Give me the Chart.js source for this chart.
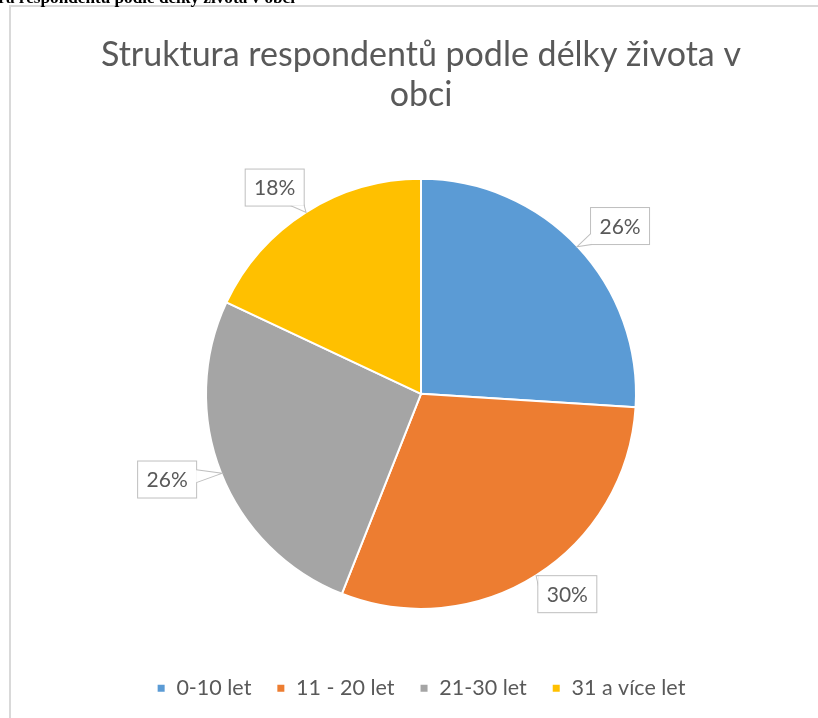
<!DOCTYPE html>
<html>
<head>
<meta charset="utf-8">
<script src="https://cdn.jsdelivr.net/npm/chart.js@4"></script>
<style>
    html, body { margin: 0; padding: 0; background: #fff; }
    body { width: 818px; height: 718px; position: relative; overflow: hidden; }
    #caption {
        position: absolute; top: -11px; right: calc(100% - 295px);
        font: bold 17.2px "Liberation Serif", serif; line-height: 18px;
        white-space: nowrap; color: #000; z-index: 2;
    }
    #frame {
        position: absolute; left: 9px; top: 5px; width: 900px; height: 800px;
        border-left: 2px solid #d9d9d9; border-top: 2px solid #d9d9d9;
    }
    #wrap { position: absolute; left: 0; top: 0; width: 818px; height: 718px; }
</style>
</head>
<body>
<div id="caption">Struktura respondentů podle délky života v obci</div>
<div id="frame"></div>
<div id="wrap"><canvas id="pie" width="818" height="718"></canvas></div>
<script>
// data
const kategorie = ['0-10 let', '11 - 20 let', '21-30 let', '31 a více let'];
const podily = [26, 30, 26, 18];
const barvy = ['#5b9bd5', '#ed7d31', '#a5a5a5', '#ffc000'];
const titulek = ['Struktura respondentů podle délky života v', 'obci'];

const FONT = 'Lato, "Open Sans", sans-serif';
const SEDA = '#595959';

// popisky s odkazem (callout) jako v Excelu
const popisky = {
    id: 'popisky',
    afterDatasetsDraw(chart) {
        const ctx = chart.ctx;
        const meta = chart.getDatasetMeta(0);
        ctx.save();
        ctx.font = '21px ' + FONT;
        meta.data.forEach((arc, i) => {
            const p = arc.getProps(['x', 'y', 'startAngle', 'endAngle', 'outerRadius'], true);
            const mid = (p.startAngle + p.endAngle) / 2;
            const R = p.outerRadius;
            const cx = p.x + Math.cos(mid) * R * 1.27;
            const cy = p.y + Math.sin(mid) * R * 1.12 - 3;
            const w = 58, h = 36;
            const l = cx - w / 2, t = cy - h / 2;
            const tx = p.x + Math.cos(mid) * (R + 1);
            const ty = p.y + Math.sin(mid) * (R + 1);
            // kde cara stred->hrot opousti ramecek
            const dx = tx - cx, dy = ty - cy;
            const sx = (w / 2) / Math.abs(dx || 1e-6), sy = (h / 2) / Math.abs(dy || 1e-6);
            let b1, b2;
            if (sx < sy) {
                const ex = cx + dx * sx, ey = cy + dy * sx;
                b1 = [ex, Math.max(t, ey - 6)]; b2 = [ex, Math.min(t + h, ey + 6)];
            } else {
                const ex = cx + dx * sy, ey = cy + dy * sy;
                b1 = [Math.max(l, ex - 6), ey]; b2 = [Math.min(l + w, ex + 6), ey];
            }
            ctx.lineWidth = 2;
            ctx.strokeStyle = '#bfbfbf';
            ctx.fillStyle = '#fff';
            ctx.beginPath();
            ctx.moveTo(b1[0], b1[1]); ctx.lineTo(tx, ty); ctx.lineTo(b2[0], b2[1]); ctx.closePath();
            ctx.stroke();
            ctx.strokeRect(l, t, w, h);
            ctx.fill();
            ctx.fillRect(l, t, w, h);
            ctx.fillStyle = SEDA;
            ctx.textAlign = 'center';
            ctx.textBaseline = 'middle';
            ctx.fillText(podily[i] + '%', cx, cy + 1);
        });
        ctx.restore();
    }
};

new Chart(document.getElementById('pie'), {
    type: 'pie',
    data: {
        labels: kategorie,
        datasets: [{
            data: podily,
            backgroundColor: barvy,
            borderColor: '#fff',
            borderWidth: 2,
            radius: 215
        }]
    },
    options: {
        responsive: false,
        animation: false,
        maintainAspectRatio: false,
        layout: { padding: { left: 24, right: 0, top: 0, bottom: 9 } },
        plugins: {
            title: {
                display: true,
                text: titulek,
                color: SEDA,
                font: { family: FONT, size: 34, weight: 'normal', lineHeight: 1.18 },
                padding: { top: 35, bottom: 20 }
            },
            legend: {
                position: 'bottom',
                labels: {
                    color: SEDA,
                    font: { family: FONT, size: 21.5 },
                    boxWidth: 9,
                    boxHeight: 9,
                    padding: 25
                }
            },
            tooltip: { enabled: false }
        }
    },
    plugins: [popisky]
});
</script>
</body>
</html>
